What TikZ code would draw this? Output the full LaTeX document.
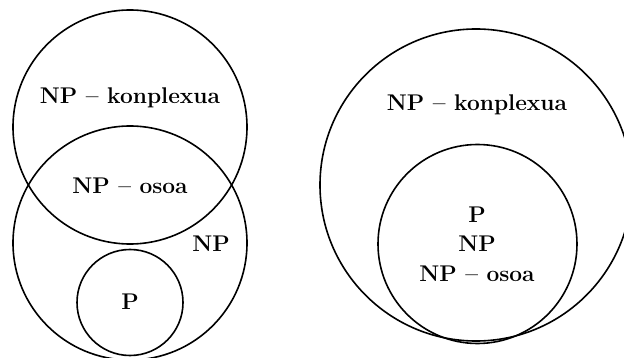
\documentclass[tikz,border=0pt]{standalone}
\begin{document}
\begin{tikzpicture}[x=1pt,y=-1pt,
  ring/.style={draw=black,line width=1.6pt},
  lbl/.style={font=\fontsize{22.7}{29.5}\selectfont\bfseries,align=center,inner sep=0pt}]
\useasboundingbox (0,0) rectangle (624,358);
\begin{scope}
\clip (0,0) rectangle (624,358);
% left diagram
\draw[ring] (130,127) circle[radius=117];
\draw[ring] (130,243) circle[radius=117];
\draw[ring] (130,302.5) circle[radius=53];
% right diagram
\draw[ring] (476,185) circle[radius=156];
\draw[ring] (477.5,244) circle[radius=99.5];
\end{scope}
\node[lbl] (konL) at (130,98) {NP -- konplexua};
\node[lbl] (osoL) at (130,186) {NP -- osoa};
\node[lbl] (npL) at (211,244) {NP};
\node[lbl] (pL) at (130,302) {P};
\node[lbl] (konR) at (477,105) {NP -- konplexua};
\node[lbl] (inR) at (477,244) {P\\NP\\NP -- osoa};
\end{tikzpicture}
\end{document}
